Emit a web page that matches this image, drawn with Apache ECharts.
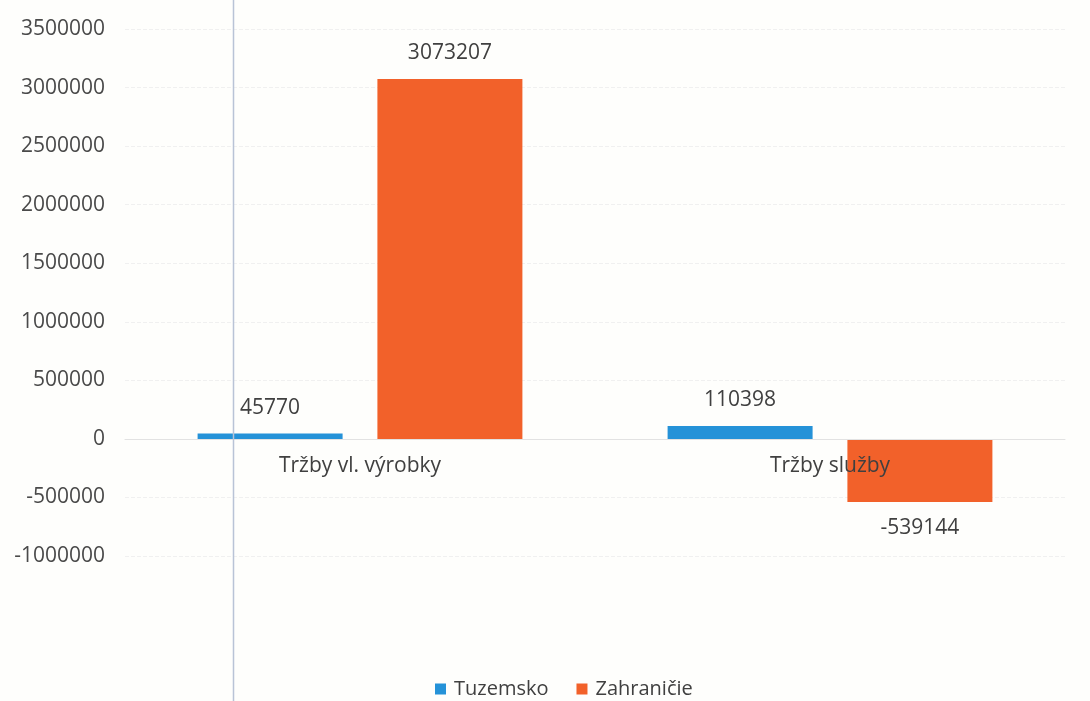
<!DOCTYPE html>
<html>
<head>
<meta charset="utf-8">
<script src="https://cdn.jsdelivr.net/npm/echarts@6/dist/echarts.min.js"></script>
<style>
html,body{margin:0;padding:0;background:#fefefc;}
#chart{width:1090px;height:701px;}
</style>
</head>
<body>
<div id="chart"></div>
<script>
const categories = ['Tržby vl. výrobky', 'Tržby služby'];
const seriesNames = ['Tuzemsko', 'Zahraničie'];
const tuzemsko = [45770, 110398];
const zahranicie = [3073207, -539144];
const yMin = -1000000, yMax = 3500000, yStep = 500000;

const font = '"Open Sans", "Noto Sans", sans-serif';
const gridTop = 29, gridBottom = 145, H = 701;
const plotH = H - gridTop - gridBottom;
const zeroFromBottom = plotH * (0 - yMin) / (yMax - yMin);

function withLabels(arr) {
  return arr.map(v => ({ value: v, label: { position: v < 0 ? 'bottom' : 'top' } }));
}
const chart = echarts.init(document.getElementById('chart'));
chart.setOption({
  backgroundColor: '#fefefc',
  animation: false,
  grid: { left: 125, right: 25, top: gridTop, bottom: gridBottom },
  legend: {
    bottom: -3,
    left: 430,
    itemWidth: 11, itemHeight: 11, itemGap: 28,
    icon: 'rect',
    textStyle: { fontFamily: font, fontSize: 20, color: '#404040', padding: [0, 0, 0, 3] },
    data: seriesNames
  },
  xAxis: {
    type: 'category',
    data: categories,
    z: 10,
    offset: -zeroFromBottom,
    axisLine: { onZero: false, lineStyle: { color: '#e2e2e2' } },
    axisTick: { show: false },
    axisLabel: { margin: 17, fontFamily: font, fontSize: 21, color: '#404040' },
    splitLine: { show: false }
  },
  yAxis: {
    type: 'value',
    min: yMin, max: yMax, interval: yStep,
    axisLine: { show: false },
    axisTick: { show: false },
    axisLabel: { margin: 20, fontFamily: font, fontSize: 21, color: '#4a4a4a', formatter: v => String(v) },
    splitLine: { lineStyle: { color: '#f0f0f0', type: 'dashed' } }
  },
  series: [
    {
      name: seriesNames[0], type: 'bar', data: withLabels(tuzemsko),
      barWidth: 145, barGap: '24%',
      itemStyle: { color: '#2592d8' },
      label: { show: true, distance: 15, fontFamily: font, fontSize: 21, color: '#404040' }
    },
    {
      name: seriesNames[1], type: 'bar', data: withLabels(zahranicie),
      barWidth: 145, barGap: '24%',
      itemStyle: { color: '#f2612a' },
      label: { show: true, distance: 15, fontFamily: font, fontSize: 21, color: '#404040' }
    }
  ],
  graphic: [{
    type: 'line', z: 100,
    shape: { x1: 233.5, y1: 0, x2: 233.5, y2: 701 },
    style: { stroke: '#b9c3d6', lineWidth: 1.5 }
  }]
});
</script>
</body>
</html>
